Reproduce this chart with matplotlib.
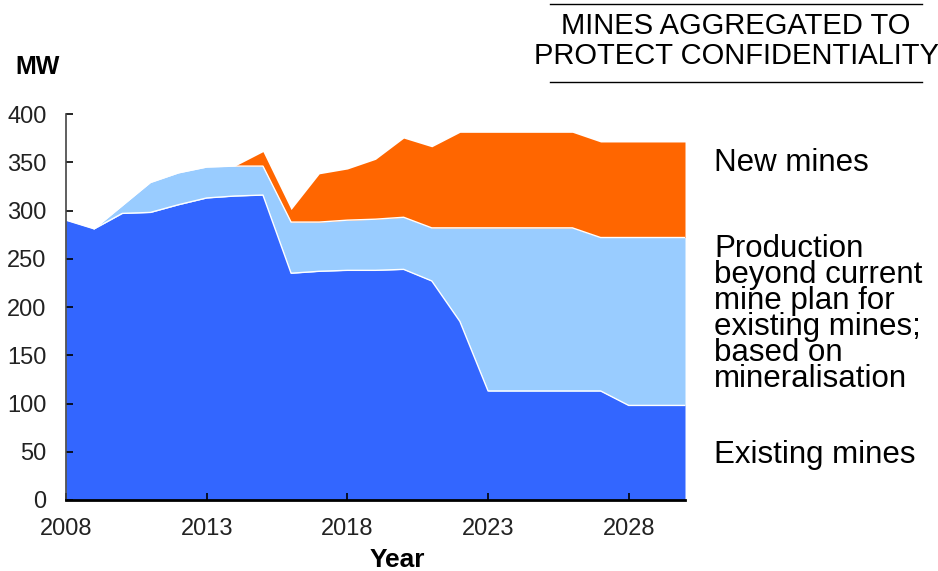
import numpy as np
import matplotlib.pyplot as plt

plt.rcParams['font.family'] = ['Liberation Sans', 'DejaVu Sans']

# MW by year
years = np.arange(2008, 2031)
existing = [290, 281, 297, 298, 306, 313, 315, 316, 235, 237, 238, 238, 239,
            227, 185, 113, 113, 113, 113, 113, 98, 98, 98]
beyond = [0, 0, 8, 31, 33, 32, 31, 30, 53, 51, 52, 53, 54,
          55, 97, 169, 169, 169, 169, 159, 174, 174, 174]
new_mines = [np.nan] * 6 + [0, 15, 13, 50, 53, 62, 82,
                            84, 99, 99, 99, 99, 99, 99, 99, 99, 99]

blue_dark = '#3366FF'
blue_light = '#99CCFF'
orange = '#FF6600'

existing = np.array(existing, dtype=float)
mid = existing + np.array(beyond, dtype=float)
top = mid + np.array(new_mines, dtype=float)

fig = plt.figure(figsize=(9.38, 5.71), dpi=100)
ax = fig.add_axes([66 / 938, 1 - 500 / 571, (685 - 66) / 938, (500 - 114) / 571])

ax.fill_between(years, 0, existing, color=blue_dark, lw=0)
ax.fill_between(years[1:], existing[1:], mid[1:], color=blue_light, lw=0)
ok = ~np.isnan(top)
ax.fill_between(years[ok], mid[ok], top[ok], color=orange, lw=0)
ax.plot(years, existing, color='white', lw=1)
ax.plot(years[1:], mid[1:], color='white', lw=1)

ax.set_xlim(2008, 2030)
ax.set_ylim(0, 400)
ax.set_xticks([2008, 2013, 2018, 2023, 2028])
ax.set_yticks(range(0, 401, 50))
ax.tick_params(direction='in', length=5, width=1.2, labelsize=17, colors='black',
               labelcolor='#222222')
ax.tick_params(axis='x', pad=13)
ax.tick_params(axis='y', pad=14)
for s in ['top', 'right']:
    ax.spines[s].set_visible(False)
ax.spines['left'].set_linewidth(1.2)
ax.spines['left'].set_color('#444444')
ax.spines['bottom'].set_linewidth(2)

fig.text(15 / 938, 1 - 67 / 571, 'MW', fontsize=18, fontweight='bold', va='center')
fig.text(397 / 938, 1 - 560 / 571, 'Year', fontsize=19, fontweight='bold',
         ha='center', va='center')

fig.text(714 / 938, 1 - 163 / 571, 'New mines', fontsize=22.5, va='center')
fig.text(714 / 938, 1 - 314 / 571,
         'Production\nbeyond current\nmine plan for\nexisting mines;\nbased on\nmineralisation',
         fontsize=22.5, va='center', linespacing=0.83)
fig.text(714 / 938, 1 - 455 / 571, 'Existing mines', fontsize=22.5, va='center')

fig.text(736 / 938, 1 - 41 / 571, 'MINES AGGREGATED TO\nPROTECT CONFIDENTIALITY',
         fontsize=21, ha='center', va='center', linespacing=1.12)
fig.add_artist(plt.Line2D([550 / 938, 922 / 938], [1 - 4 / 571, 1 - 4 / 571], color='black', lw=1))
fig.add_artist(plt.Line2D([550 / 938, 922 / 938], [1 - 82 / 571, 1 - 82 / 571], color='black', lw=1))

fig.savefig('out.png', dpi=100)
